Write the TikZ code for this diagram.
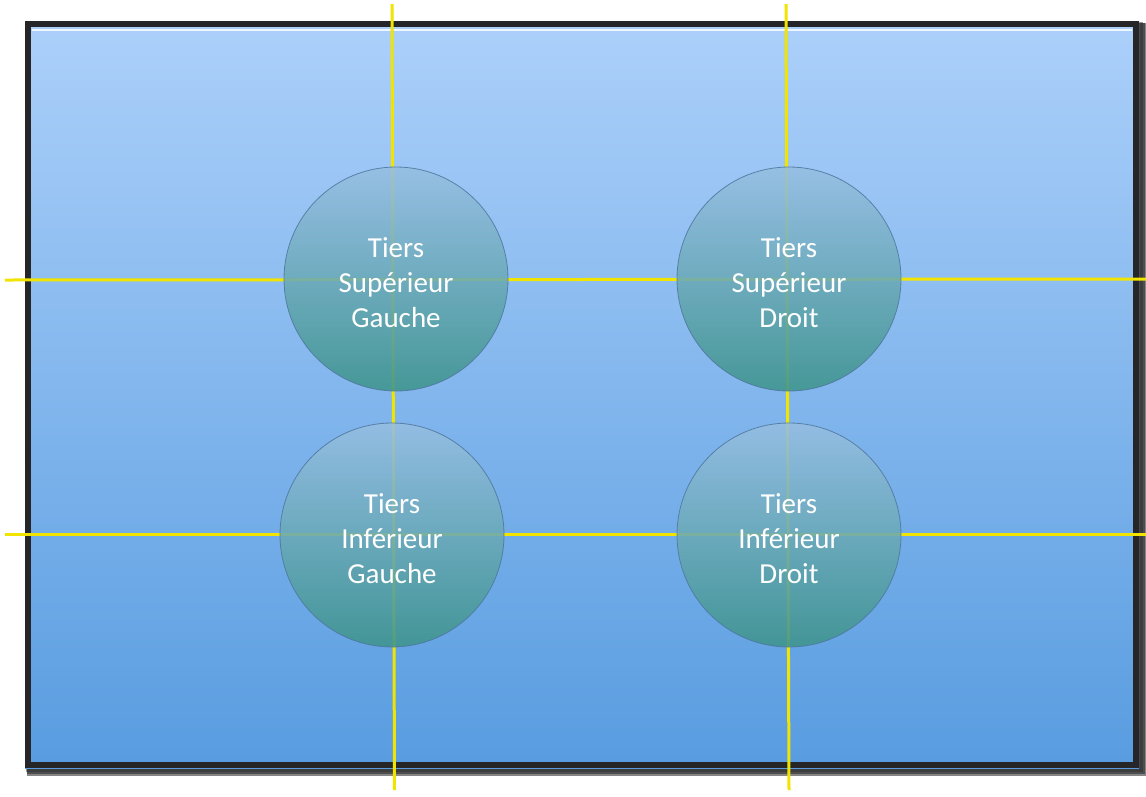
\documentclass[tikz,border=0pt]{standalone}
\usepackage{fontspec}
\setmainfont{Carlito}
\usetikzlibrary{shadings}
\definecolor{bgtop}{RGB}{172,208,250}
\definecolor{bgbot}{RGB}{88,156,224}
\definecolor{ctop}{RGB}{150,190,226}
\definecolor{cbot}{RGB}{62,148,140}
\definecolor{cedge}{RGB}{80,120,160}
\definecolor{frame}{RGB}{38,38,40}
\definecolor{guide}{RGB}{240,228,0}
\tikzset{
  guideline/.style={draw=guide, line width=3pt},
  third/.style={circle, minimum size=224pt, inner sep=0pt,
    top color=ctop, bottom color=cbot, draw=cedge, line width=0.8pt,
    opacity=0.88, text opacity=1, text=white, align=center,
    font=\fontsize{29}{35}\selectfont},
}
\begin{document}
\begin{tikzpicture}[x=1pt,y=-1pt]
\useasboundingbox (0,0) rectangle (1146,796);
\fill[white] (0,0) rectangle (1146,796);
% soft shadow
\foreach \o/\c in {8/95,6/90,4/82}{
  \fill[black!\c!white, opacity=0.5] (25+\o*0.3,21+\o*0.3) rectangle (1139+\o,768+\o);
}
% background panel
\shade[top color=bgtop, bottom color=bgbot] (25,21) rectangle (1139,768);
\draw[frame, line width=6pt] (28,24) rectangle (1136,765);
\draw[white!80!bgtop, line width=1.5pt] (32,30) -- (1132,30);
% guide lines
\coordinate (v1t) at (392,4); \coordinate (v1b) at (394.5,790);
\coordinate (v2t) at (786,4); \coordinate (v2b) at (789,790);
\coordinate (h1l) at (5,280); \coordinate (h1r) at (1146,279);
\coordinate (h2l) at (5,534); \coordinate (h2r) at (1146,534);
\draw[guideline] (v1t) -- (v1b);
\draw[guideline] (v2t) -- (v2b);
\draw[guideline] (h1l) -- (h1r);
\draw[guideline] (h2l) -- (h2r);
% circles
\node[third] (sg) at (396,279) {};
\node[third] (sd) at (789,279) {};
\node[third] (ig) at (392,535) {};
\node[third] (id) at (789,535) {};
\tikzset{lbl/.style={text=white, align=center, font=\fontsize{29}{35}\selectfont, yshift=-4pt}}
\node[lbl] (tsg) at (sg) {Tiers\\Supérieur\\Gauche};
\node[lbl] (tsd) at (sd) {Tiers\\Supérieur\\Droit};
\node[lbl] (tig) at (ig) {Tiers\\Inférieur\\Gauche};
\node[lbl] (tid) at (id) {Tiers\\Inférieur\\Droit};
\end{tikzpicture}
\end{document}
